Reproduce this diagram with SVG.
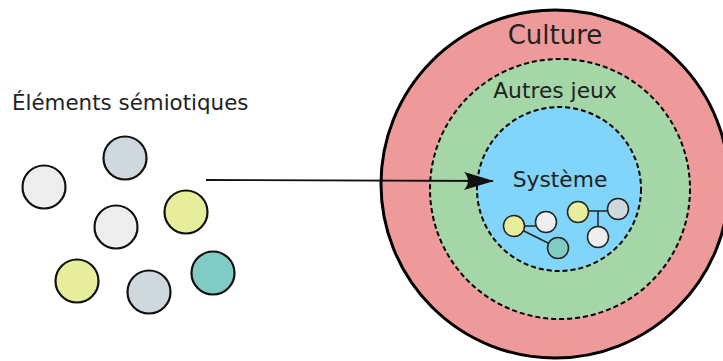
<svg xmlns="http://www.w3.org/2000/svg" width="723" height="361" viewBox="0 0 723 361">
<defs>
<style>
.t{font-family:"DejaVu Sans",sans-serif;fill:#222;text-anchor:middle}
.el{stroke:#111;stroke-width:2.2}
.sm{stroke:#222;stroke-width:1.5}
.w{fill:#eeeeee}.g{fill:#cfd8dc}.y{fill:#e6ee9c}.c{fill:#80cbc4}
.ln{stroke:#222;stroke-width:1.5;fill:none}
</style>
<marker id="ah" viewBox="0 0 30 18" refX="29" refY="9" markerWidth="30" markerHeight="18" markerUnits="userSpaceOnUse" orient="auto">
<path d="M0,0 L30,9 L0,18 Q8,9 0,0 Z" fill="#111"/>
</marker>
</defs>
<rect width="723" height="361" fill="#fff"/>
<g id="culture">
<circle cx="555" cy="184" r="174" fill="#ef9a9a" stroke="#000" stroke-width="3"/>
<text class="t" x="555" y="44" font-size="26">Culture</text>
</g>
<g id="autres-jeux">
<circle cx="560" cy="189" r="130" fill="#a5d6a7" stroke="#000" stroke-width="2" stroke-dasharray="5,3"/>
<text class="t" x="555" y="98" font-size="21.8">Autres jeux</text>
</g>
<g id="systeme">
<circle cx="559" cy="189" r="82" fill="#81d4fa" stroke="#000" stroke-width="2" stroke-dasharray="5,3"/>
<text class="t" x="560" y="187" font-size="21.8">Système</text>
<line class="ln" x1="514" y1="226" x2="546" y2="226"/>
<line class="ln" x1="514" y1="226" x2="558" y2="248"/>
<line class="ln" x1="578" y1="211" x2="618" y2="211"/>
<line class="ln" x1="598" y1="211" x2="598" y2="237"/>
<circle class="sm y" cx="514" cy="226" r="10.5"/>
<circle class="sm w" cx="546" cy="222" r="10.5"/>
<circle class="sm c" cx="558" cy="248" r="10.5"/>
<circle class="sm y" cx="578" cy="212" r="10.5"/>
<circle class="sm g" cx="618" cy="209" r="10.5"/>
<circle class="sm w" cx="598" cy="237" r="10.5"/>
</g>
<g id="elements">
<text x="12" y="110" font-size="21.4" font-family="DejaVu Sans,sans-serif" fill="#222">Éléments sémiotiques</text>
<circle class="el w" cx="44" cy="187" r="21.5"/>
<circle class="el g" cx="125" cy="158" r="21.5"/>
<circle class="el w" cx="116" cy="227" r="21.5"/>
<circle class="el y" cx="186" cy="212" r="21.5"/>
<circle class="el y" cx="77" cy="281" r="21.5"/>
<circle class="el g" cx="149" cy="292" r="21.5"/>
<circle class="el c" cx="213" cy="273" r="21.5"/>
</g>
<g id="connectors">
<line x1="206" y1="180" x2="493" y2="181" stroke="#111" stroke-width="1.8" marker-end="url(#ah)"/>
</g>
</svg>
